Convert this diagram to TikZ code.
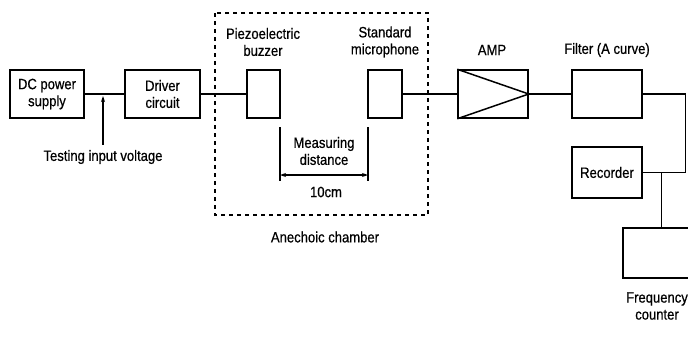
\documentclass[tikz,border=0pt]{standalone}
\usepackage{fontspec}
\setmainfont[FakeStretch=0.87,FakeBold=0.6]{Liberation Sans}
\usetikzlibrary{arrows.meta}
\begin{document}
\begin{tikzpicture}[x=1pt,y=-1pt,
  font=\fontsize{15}{17}\selectfont,
  blk/.style={draw, line width=1.5pt, inner sep=0pt, align=center},
  wire/.style={line width=1.7pt},
  thin/.style={line width=1.1pt},
  lbl/.style={inner sep=0pt, align=center},
  chamber/.style={line width=2pt, dash pattern=on 4pt off 4pt}]
\useasboundingbox (0,0) rectangle (688,338);
\clip (0,0) rectangle (688,338);
\fill[white] (0,0) rectangle (688,338);

% blocks
\node[blk, minimum width=74pt, minimum height=48pt] (dc) at (47,94) {DC power\\supply};
\node[blk, minimum width=75pt, minimum height=48pt] (drv) at (162.5,94) {Driver\\circuit};
\node[blk, minimum width=33pt, minimum height=48pt] (buz) at (263.5,94) {};
\node[blk, minimum width=34pt, minimum height=48pt] (mic) at (385,94) {};
\node[blk, minimum width=70pt, minimum height=48pt] (amp) at (493,94) {};
\node[blk, minimum width=70pt, minimum height=48pt] (fil) at (607,94) {};
\node[blk, minimum width=70pt, minimum height=51pt] (rec) at (607,172.5) {Recorder};
\node[blk, minimum width=77pt, minimum height=50pt] (frq) at (661.5,253) {};

% amplifier symbol
\draw[line width=1.5pt] (amp.north west) -- (amp.east) -- (amp.south west);

% labels
\node[lbl] (lbuz) at (263,42) {Piezoelectric\\buzzer};
\node[lbl] (lmic) at (385,42) {Standard\\microphone};
\node[lbl] (lamp) at (492,50) {AMP};
\node[lbl] (lfil) at (607,50) {Filter (A curve)};
\node[lbl] (lfrq) at (657,306) {Frequency\\counter};
\node[lbl] (lane) at (325,237) {Anechoic chamber};
\node[lbl] (lmd) at (324,151) {Measuring\\distance};
\node[lbl] (l10) at (326,192) {10cm};
\node[lbl] (ltv) at (103,157) {Testing input voltage};

% anechoic chamber
\draw[chamber] (215,13) rectangle (428,215);

% wires
\draw[wire] (dc.east) -- (drv.west);
\draw[wire] (drv.east) -- (buz.west);
\draw[wire] (mic.east) -- (amp.west);
\draw[wire] (amp.east) -- (fil.west);
\coordinate (rc) at (685.5,94);
\draw[wire] (fil.east) -- (rc) |- (rec.east);
\coordinate (j) at (661.5,172.5);
\draw[wire] (j) -- (frq.north);

% testing input voltage arrow
\coordinate (tvtop) at (103,96);
\draw[thin, -{Stealth[length=6pt,width=4pt]}] (ltv.north) ++(0,-5) -- (tvtop);

% measuring distance
\coordinate (m1) at (280,127);
\coordinate (m2) at (280,181);
\coordinate (m3) at (368,127);
\coordinate (m4) at (368,181);
\draw[thin] (m1) -- (m2);
\draw[thin] (m3) -- (m4);
\draw[thin, {Stealth[length=6pt,width=4pt]}-{Stealth[length=6pt,width=4pt]}] (280,175) -- (368,175);
\end{tikzpicture}
\end{document}
